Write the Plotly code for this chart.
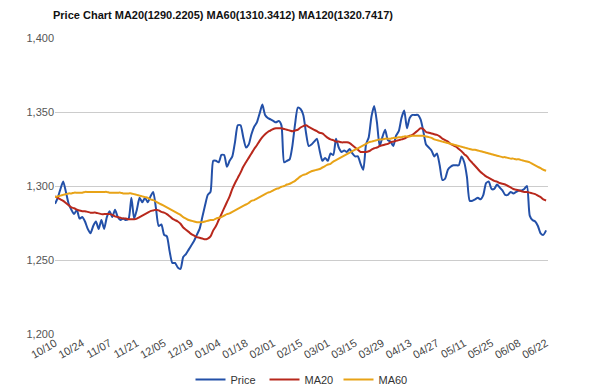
import plotly.graph_objects as go

tick_labels = ["10/10", "10/24", "11/07", "11/21", "12/05", "12/19", "01/04", "01/18", "02/01",
               "02/15", "03/01", "03/15", "03/29", "04/13", "04/27", "05/11", "05/25", "06/08", "06/22"]

price = [1288, 1292, 1298, 1303, 1296, 1288, 1284, 1281, 1284, 1278,
         1279, 1276, 1271, 1268, 1273, 1276, 1271, 1277, 1271, 1279,
         1283, 1279, 1284, 1279, 1277, 1278, 1277, 1278, 1292, 1278,
         1284, 1292, 1289, 1292, 1289, 1293, 1296, 1285, 1273, 1274,
         1267, 1266, 1256, 1248, 1248, 1245, 1244, 1252, 1254, 1257,
         1260, 1263, 1267, 1271, 1279, 1287, 1294, 1296, 1317, 1317,
         1316, 1321, 1321, 1313, 1317, 1320, 1330, 1341, 1341, 1333,
         1326, 1328, 1335, 1340, 1343, 1349, 1355, 1348, 1346, 1345,
         1344, 1343, 1344, 1341, 1316, 1317, 1318, 1327, 1342, 1353,
         1352, 1348, 1336, 1327, 1328, 1330, 1332, 1324, 1317, 1319,
         1317, 1322, 1321, 1332, 1326, 1323, 1324, 1323, 1325, 1322,
         1320, 1320, 1315, 1311, 1328, 1333, 1347, 1354, 1343, 1327,
         1333, 1338, 1331, 1330, 1327, 1334, 1337, 1346, 1351, 1339,
         1346, 1348, 1348, 1348, 1345, 1337, 1328, 1326, 1324, 1320,
         1322, 1314, 1304, 1305, 1311, 1313, 1314, 1314, 1314, 1320,
         1316, 1306, 1290, 1290, 1291, 1292, 1291, 1294, 1302, 1303,
         1298, 1298, 1301, 1299, 1297, 1294, 1294, 1296, 1295, 1296,
         1297, 1297, 1298, 1300, 1280, 1277, 1276, 1273, 1268, 1267,
         1270]

ma20 = [1293, 1292, 1291, 1290, 1288.5, 1287, 1285.5, 1285, 1284, 1283.5,
        1283, 1283, 1282.5, 1282, 1282, 1282, 1281.5, 1281, 1281, 1281,
        1281, 1280.5, 1279.5, 1279, 1278.5, 1278, 1278, 1277.5, 1277.5, 1277.5,
        1278, 1279, 1280, 1281, 1282, 1283, 1283.5, 1284, 1283.5, 1282.5,
        1282, 1281, 1279.5, 1278, 1277, 1276, 1274.5, 1272, 1270.5, 1269,
        1267.5, 1266.5, 1265.5, 1265, 1264.5, 1264, 1264.5, 1266, 1270, 1273,
        1277, 1281, 1285, 1289, 1293, 1298, 1302, 1305.5, 1309, 1313,
        1316, 1319, 1322, 1325, 1327.5, 1330.5, 1333, 1335, 1336.5, 1337.5,
        1338.5, 1339, 1339, 1339, 1338.5, 1338, 1337.5, 1337, 1337.5, 1338,
        1339.5, 1340.5, 1341, 1340, 1339, 1338, 1337, 1336, 1335.5, 1334,
        1332.5, 1331.5, 1331, 1330, 1330, 1329.5, 1329.5, 1329.5, 1329, 1327.5,
        1326, 1324.5, 1323, 1323, 1323, 1323.5, 1324.5, 1325.5, 1326, 1327,
        1327.5, 1328, 1328.5, 1329.5, 1330, 1330.5, 1331, 1331.5, 1332, 1333,
        1334, 1334.5, 1336, 1337.5, 1339, 1338.5, 1336.5, 1336, 1335.5, 1335,
        1334.5, 1333.5, 1332, 1331, 1330, 1328.5, 1327.5, 1326.5, 1325, 1323.5,
        1321.5, 1320, 1317.5, 1315.5, 1313.5, 1311.5, 1309.5, 1308, 1306.5, 1305.5,
        1304.5, 1303.5, 1303, 1302, 1301.5, 1301, 1300, 1299, 1298, 1297.5,
        1297, 1296.5, 1296, 1296, 1295.5, 1295, 1294.5, 1293.5, 1292.5, 1291,
        1290.2]

ma60 = [1292.5, 1293, 1293.5, 1294, 1294.5, 1295, 1295, 1295.5, 1295.5, 1295.5,
        1295.5, 1296, 1296, 1296, 1296, 1296, 1296, 1296, 1296, 1296,
        1295.5, 1295.5, 1295.5, 1295.5, 1295.5, 1295, 1295, 1295, 1295, 1294.5,
        1294, 1293.5, 1293, 1292.5, 1292, 1291, 1290.5, 1289.5, 1288.5, 1287.5,
        1286.5, 1285.5, 1284.5, 1283.5, 1282.5, 1281.5, 1280.5, 1279, 1278, 1277,
        1276.5, 1276, 1275.5, 1275.5, 1275.5, 1276, 1276.5, 1277, 1277, 1278,
        1278.5, 1279, 1280, 1281, 1281.5, 1282.5, 1283.5, 1284.5, 1285.5, 1286.5,
        1287.5, 1288.5, 1290, 1290.5, 1291.5, 1292.5, 1293.5, 1294.5, 1295.5, 1296,
        1297, 1298, 1298.5, 1299.5, 1300, 1301, 1301.5, 1302.5, 1303.5, 1305,
        1306.5, 1307.5, 1308, 1309, 1310, 1310.5, 1311, 1311.5, 1312.5, 1313.5,
        1314.5, 1315, 1316.5, 1317.5, 1318.5, 1319.5, 1320.5, 1321.5, 1322.5, 1323.5,
        1324.5, 1325.5, 1326.5, 1327.5, 1328.5, 1329.5, 1330, 1330.5, 1331, 1331.5,
        1331.5, 1332, 1332, 1332, 1332.5, 1332.5, 1333, 1333, 1333.5, 1333.5,
        1333.5, 1334, 1334, 1334, 1334, 1334, 1333.5, 1333, 1332.5, 1331.5,
        1331, 1330.5, 1330, 1329.5, 1329, 1328.5, 1328, 1327.5, 1327, 1326.5,
        1326, 1325.5, 1325, 1324.5, 1324.5, 1324, 1323.5, 1323, 1322.5, 1322,
        1321.5, 1321, 1320.5, 1320, 1319.5, 1319.5, 1319, 1318.5, 1318.5, 1318,
        1318, 1317.5, 1317, 1316.5, 1316, 1315, 1314, 1313, 1312, 1311,
        1310.3]

days_per_tick = 10
x = list(range(len(price)))
tickvals = [i * days_per_tick for i in range(len(tick_labels))]

fig = go.Figure()
fig.add_trace(go.Scatter(x=x, y=price, mode="lines", name="Price",
                         line=dict(color="#2350a8", width=2, shape="spline", smoothing=0.6)))
fig.add_trace(go.Scatter(x=x, y=ma20, mode="lines", name="MA20",
                         line=dict(color="#b8281c", width=2, shape="spline")))
fig.add_trace(go.Scatter(x=x, y=ma60, mode="lines", name="MA60",
                         line=dict(color="#e8a317", width=2, shape="spline")))

# page body adds an 8px offset, so the figure is 8px smaller than the window
fig.update_layout(
    width=592, height=383,
    paper_bgcolor="white", plot_bgcolor="white",
    margin=dict(l=47, r=52, t=30, b=57, autoexpand=False),
    title=dict(text="<b>Price Chart MA20(1290.2205) MA60(1310.3412) MA120(1320.7417)</b>",
               x=0, xref="paper", xanchor="left", y=1, yref="container", yanchor="top",
               pad=dict(t=3, l=-2), automargin=False,
               font=dict(family="Liberation Sans, Arial, sans-serif", size=11, color="#111")),
    font=dict(family="Liberation Sans, Arial, sans-serif", size=11, color="#444"),
    showlegend=True,
    legend=dict(orientation="h", x=0.5, xanchor="center", y=-0.105, yanchor="top",
                font=dict(size=11, color="#333"), itemwidth=30, entrywidth=29,
                tracegroupgap=0),
    hovermode=False,
)
fig.update_xaxes(range=[0, len(price) - 0.3], tickvals=tickvals, ticktext=tick_labels,
                 tickangle=-30, showgrid=False, zeroline=False, showline=False,
                 ticks="", automargin=False, tickfont=dict(size=11, color="#444"))
fig.update_yaxes(range=[1200, 1400], dtick=50, tickformat=",", showgrid=True,
                 gridcolor="#cccccc", gridwidth=1, zeroline=False, showline=False,
                 ticks="", automargin=False, tickfont=dict(size=11, color="#555"))

fig.write_html("out.html")
